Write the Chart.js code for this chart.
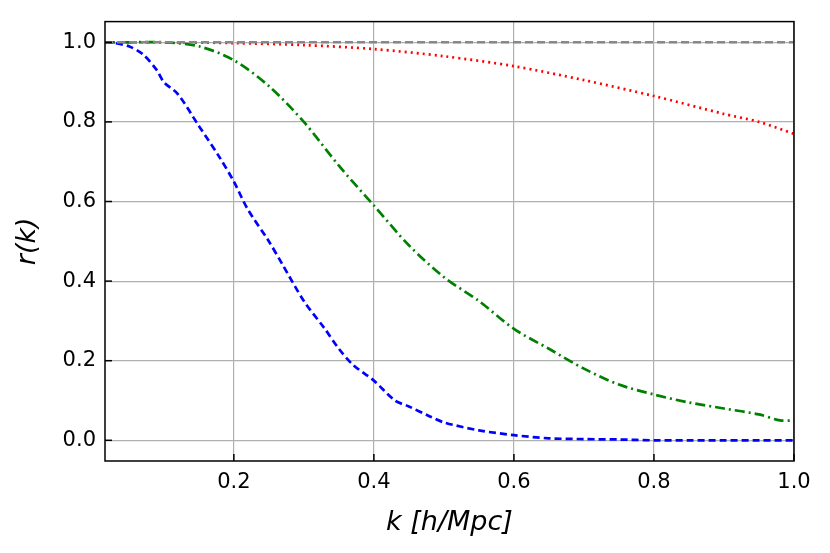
<!DOCTYPE html>
<html><head><meta charset="utf-8">
<script src="https://cdn.jsdelivr.net/npm/chart.js@4/dist/chart.umd.min.js"></script>
<style>html,body{margin:0;padding:0;background:#fff}#w{width:830px;height:553px}</style>
</head><body><div id="w"><canvas id="c"></canvas></div>
<script>
const blueK=[0.016,0.03,0.05,0.07,0.09,0.1,0.12,0.15,0.18,0.2,0.22,0.25,0.27,0.3,0.33,0.35,0.37,0.4,0.43,0.45,0.48,0.5,0.55,0.6,0.65,0.7,0.75,0.8,0.85,0.9,0.95,1.0];
const blueR=[1.0,0.998,0.99,0.97,0.93,0.90,0.87,0.79,0.71,0.65,0.58,0.50,0.44,0.35,0.28,0.23,0.19,0.15,0.10,0.085,0.06,0.045,0.025,0.013,0.005,0.003,0.002,0.0,0.0,0.0,0.0,0.0];
const greenK=[0.016,0.05,0.1,0.15,0.2,0.25,0.3,0.35,0.4,0.45,0.5,0.55,0.6,0.65,0.7,0.75,0.8,0.85,0.9,0.95,0.98,1.0];
const greenR=[1.0,1.0,1.0,0.99,0.955,0.89,0.80,0.69,0.59,0.49,0.41,0.35,0.28,0.23,0.18,0.14,0.115,0.095,0.08,0.065,0.05,0.05];
const redK=[0.016,0.1,0.2,0.3,0.4,0.5,0.6,0.7,0.8,0.9,0.95,1.0];
const redR=[1.0,1.0,0.998,0.993,0.983,0.965,0.94,0.905,0.865,0.82,0.80,0.77];
const grayK=[0.016,1.0];
const grayR=[1.0,1.0];
const xTicks=[0.2,0.4,0.6,0.8,1.0];
const yTicks=[0.0,0.2,0.4,0.6,0.8,1.0];
const pts=(k,r)=>k.map((x,i)=>({x:x,y:r[i]}));
const inward={id:'inward',afterDraw(ch){const c=ch.ctx,a=ch.chartArea;c.save();c.strokeStyle='#000';c.lineWidth=1.5;
 ch.scales.x.ticks.forEach(t=>{const p=ch.scales.x.getPixelForValue(t.value);c.beginPath();c.moveTo(p,a.bottom);c.lineTo(p,a.bottom-7);c.stroke();});
 ch.scales.y.ticks.forEach(t=>{const p=ch.scales.y.getPixelForValue(t.value);c.beginPath();c.moveTo(a.left,p);c.lineTo(a.left+7,p);c.stroke();});
 c.lineWidth=1.5;c.strokeRect(a.left,a.top,a.right-a.left,a.bottom-a.top);c.restore();}};
new Chart(document.getElementById('c'),{type:'line',
data:{datasets:[
{data:pts(grayK,grayR),borderColor:'#888',borderDash:[8,4],borderWidth:2.5,pointRadius:0},
{data:pts(blueK,blueR),borderColor:'#0000ff',borderDash:[7,4],borderWidth:2.7,pointRadius:0,tension:0.3},
{data:pts(greenK,greenR),borderColor:'#008000',borderDash:[10,4,2,4],borderWidth:2.7,pointRadius:0,tension:0.3},
{data:pts(redK,redR),borderColor:'#ff0000',borderDash:[2,4],borderWidth:2.7,pointRadius:0,tension:0.3}]},
plugins:[inward],
options:{responsive:true,maintainAspectRatio:false,animation:false,
layout:{padding:{top:7,right:36,left:0,bottom:0}},
plugins:{legend:{display:false},tooltip:{enabled:false}},
scales:{
x:{type:'linear',min:0.016,max:1.0,
 afterBuildTicks:s=>{s.ticks=xTicks.map(v=>({value:v}));},
 afterFit:s=>{s.height=92;},
 grid:{color:'#b0b0b0',lineWidth:1.2,drawTicks:false},border:{display:false},
 ticks:{color:'#000',font:{size:21,family:'DejaVu Sans'},padding:9,maxRotation:0,callback:v=>v.toFixed(1)},
 title:{display:true,text:'k [h/Mpc]',color:'#000',font:{size:27,family:'DejaVu Sans',style:'italic'},padding:{top:0,bottom:14}}},
y:{type:'linear',min:-0.052,max:1.052,
 afterBuildTicks:s=>{s.ticks=yTicks.map(v=>({value:v}));},
 afterFit:s=>{s.width=105;},
 grid:{color:'#b0b0b0',lineWidth:1.2,drawTicks:false},border:{display:false},
 ticks:{color:'#000',font:{size:21,family:'DejaVu Sans'},padding:9,callback:v=>v.toFixed(1)},
 title:{display:true,text:'r(k)',color:'#000',font:{size:27,family:'DejaVu Sans',style:'italic'},padding:{top:12,bottom:0}}}}}});
</script></body></html>
